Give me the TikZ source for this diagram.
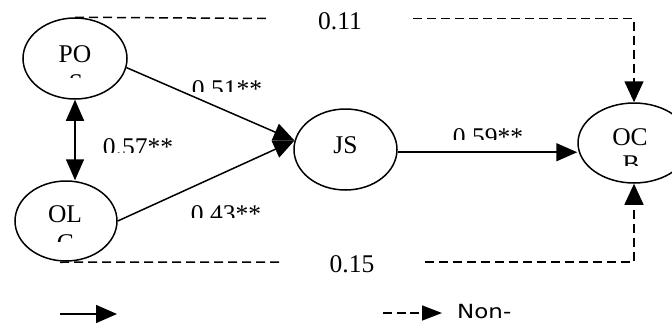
\documentclass[tikz,border=0pt]{standalone}
\usepackage{fontspec}
\setmainfont{Liberation Serif}
\newfontfamily\legendfont{DejaVu Sans}
\usetikzlibrary{arrows.meta,shapes.geometric}
\begin{document}
\begin{tikzpicture}[x=1pt,y=-1pt,
  ell/.style={draw, ellipse, line width=1.5pt, inner sep=0pt},
  lbl/.style={inner sep=0pt, anchor=base, font=\fontsize{25.5}{30}\selectfont},
  solidarrow/.style={line width=1.5pt, -{Triangle[length=21pt,width=18pt]}},
  dashline/.style={line width=1.5pt, dash pattern=on 9pt off 5pt},
  dasharrow/.style={dashline, -{Triangle[length=21pt,width=19pt]}},
]
\useasboundingbox (0,0) rectangle (672,324);

% ellipses
\node[ell, minimum width=104pt, minimum height=81pt] (pos) at (75,58.5) {};
\node[ell, minimum width=102pt, minimum height=80pt] (olc) at (66,221) {};
\node[ell, minimum width=103pt, minimum height=81pt] (js) at (345.5,149.5) {};
\node[ell, minimum width=112pt, minimum height=80pt] (ocb) at (634,143) {};

% ellipse texts
\node[lbl] (tpos) at (75,62.3) {PO};
\begin{scope}\clip (40,70) rectangle (110,77.7);
\node[lbl] (tpos2) at (76,91.3) {S};
\end{scope}
\node[lbl] (tolc) at (65,222.7) {OL};
\begin{scope}\clip (30,228) rectangle (100,241.7);
\node[lbl] (tolc2) at (65.5,251) {C};
\end{scope}
\node[lbl] (tjs) at (345.5,153.3) {JS};
\node[lbl] (tocb) at (630,145) {OC};
\begin{scope}\clip (600,150) rectangle (660,165);
\node[lbl] (tocb2) at (631,172) {B};
\end{scope}

% coefficient labels (clipped as in the reference)
\begin{scope}\clip (180,70) rectangle (280,91);
\node[lbl] (l51) at (227,97) {0.51**};
\end{scope}
\begin{scope}\clip (95,128) rectangle (185,152);
\node[lbl] (l57) at (138,155) {0.57**};
\end{scope}
\begin{scope}\clip (180,195) rectangle (275,217);
\node[lbl] (l43) at (226,222) {0.43**};
\end{scope}
\begin{scope}\clip (440,118) rectangle (540,139);
\node[lbl] (l59) at (488,145) {0.59**};
\end{scope}
\node[lbl] (l11) at (340,29) {0.11};
\node[lbl] (l15) at (352,272) {0.15};

% solid connectors
\draw[solidarrow] (pos.-10) -- (js.170);
\draw[solidarrow] (olc.east) -- (js.170);
\draw[line width=1.5pt, {Triangle[length=21pt,width=18pt]}-{Triangle[length=21pt,width=18pt]}]
  (pos.south) -- (pos.south |- olc.north);
\draw[solidarrow] (js.-3) -- (js.-3 -| ocb.west);

% dashed connectors
\coordinate (ta) at (270,18.5);
\coordinate (tb) at (413,18.5);
\draw[dashline] (pos.north) -- (ta);
\draw[dasharrow] (tb) -| (ocb.north);
\coordinate (ba) at (283,262);
\coordinate (bb) at (425,262);
\draw[dashline] (olc.south) ++(-6,0.5) -- (ba);
\draw[dasharrow] (bb) -| (ocb.south);

% legend
\coordinate (ls1) at (60,314);
\coordinate (ls2) at (117,314);
\draw[solidarrow] (ls1) -- (ls2);
\coordinate (ld1) at (383,313);
\coordinate (ld2) at (442,313);
\draw[line width=1.5pt, dash pattern=on 9pt off 4.5pt, -{Triangle[length=20pt,width=15pt]}] (ld1) -- (ld2);
\node[inner sep=0pt, anchor=base west, font=\legendfont\fontsize{19.5}{22}\selectfont] (non) at (457,318.5) {\scalebox{1.18}[1]{Non-}};
\end{tikzpicture}
\end{document}
